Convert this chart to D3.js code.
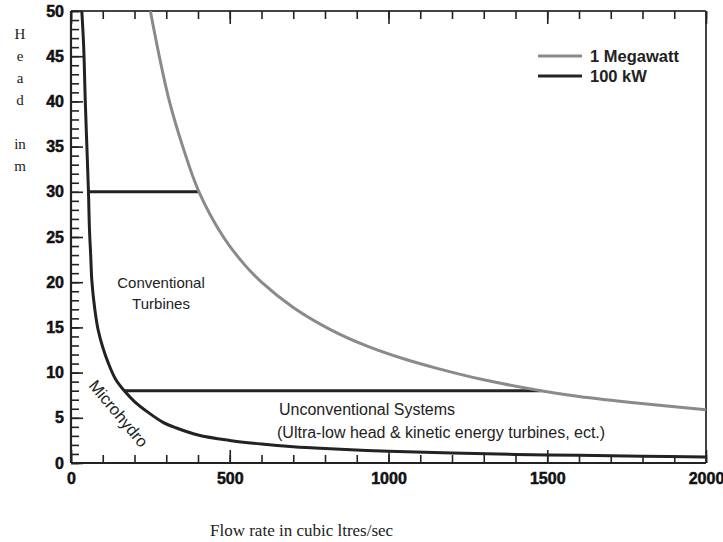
<!DOCTYPE html>
<html>
<head>
<meta charset="utf-8">
<script src="https://cdn.jsdelivr.net/npm/d3@7"></script>
<style>
  body { margin: 0; background: #fff; }
  svg { display: block; }
</style>
</head>
<body>
<svg id="chart" width="723" height="542"></svg>
<script>
// ---- Data ----
const flow1MW = [250, 278, 310, 352, 403, 480, 545, 600, 700, 820, 935, 1050, 1150, 1300, 1480, 1600, 1789, 2000];
const head1MW = [50, 45, 40, 35, 30, 25, 22, 20, 17.2, 14.7, 12.9, 11.5, 10.5, 9.2, 8.0, 7.35, 6.6, 5.9];

const flow100kW = [34, 40, 45, 50, 55, 58, 62, 66, 75, 85, 100, 117, 140, 170, 200, 243, 290, 330, 400, 500, 600, 700, 800, 1000, 1200, 1400, 1600, 1800, 2000];
const head100kW = [50, 46, 40, 35, 30, 26, 23, 20, 17, 14.8, 12.8, 11.1, 9.3, 7.9, 6.8, 5.6, 4.5, 3.9, 3.1, 2.5, 2.1, 1.8, 1.6, 1.3, 1.1, 0.95, 0.85, 0.75, 0.65];

const boundaryHead = [30, 8];
const boundaryFrom = [53, 170];
const boundaryTo = [403, 1480];

const xMajorTicks = [0, 500, 1000, 1500, 2000];
const yMajorTicks = [0, 5, 10, 15, 20, 25, 30, 35, 40, 45, 50];
const legendLabels = ["1 Megawatt", "100 kW"];
const yTitleLines = ["H", "e", "a", "d", "", "in", "m"];
const xTitle = "Flow rate in cubic ltres/sec";

// ---- Layout ----
const L = 71, R = 706, T = 11, B = 463;
const svg = d3.select("#chart");
const x = d3.scaleLinear().domain([0, 2000]).range([L, R]);
const y = d3.scaleLinear().domain([0, 50]).range([B, T]);

const grey = "#8a8a8a", dark = "#222";

svg.append("defs").append("clipPath").attr("id", "clip")
  .append("rect").attr("x", L).attr("y", T).attr("width", R - L).attr("height", B - T);

// Frame top/right
svg.append("line").attr("x1", L).attr("x2", R).attr("y1", T).attr("y2", T)
  .attr("stroke", "#444").attr("stroke-width", 2);
svg.append("line").attr("x1", R).attr("x2", R).attr("y1", T).attr("y2", B)
  .attr("stroke", "#444").attr("stroke-width", 2);

function styleAxis(g) {
  g.select(".domain").remove();
  g.selectAll(".tick line").attr("stroke", dark).attr("stroke-width", 1.6);
}
function styleLabels(g) {
  g.selectAll("text")
    .attr("font-family", "Liberation Sans, Arial, sans-serif")
    .attr("font-weight", "bold").attr("font-size", 16).attr("fill", "#111")
    .attr("stroke", "#111").attr("stroke-width", 0.5);
}

// Bottom axis: minor + major ticks pointing up, labels below
svg.append("g").attr("transform", `translate(0,${B})`)
  .call(d3.axisBottom(x).tickValues(d3.range(0, 2001, 100)).tickSize(-8).tickFormat(""))
  .call(styleAxis);
svg.append("g").attr("transform", `translate(0,${B})`)
  .call(d3.axisBottom(x).tickValues(xMajorTicks).tickSize(-13).tickPadding(10).tickFormat(d3.format("d")))
  .call(styleAxis).call(styleLabels);

// Top axis ticks pointing down
svg.append("g").attr("transform", `translate(0,${T})`)
  .call(d3.axisTop(x).tickValues(d3.range(0, 2001, 100)).tickSize(-8).tickFormat(""))
  .call(styleAxis);
svg.append("g").attr("transform", `translate(0,${T})`)
  .call(d3.axisTop(x).tickValues(xMajorTicks).tickSize(-13).tickFormat(""))
  .call(styleAxis);

// Left axis: ticks pointing right, labels left
svg.append("g").attr("transform", `translate(${L},0)`)
  .call(d3.axisLeft(y).tickValues(d3.range(0, 51, 1)).tickSize(-8).tickFormat(""))
  .call(styleAxis);
svg.append("g").attr("transform", `translate(${L},0)`)
  .call(d3.axisLeft(y).tickValues(yMajorTicks).tickSize(-12).tickPadding(7).tickFormat(d3.format("d")))
  .call(styleAxis).call(styleLabels);

// Axis lines left / bottom
svg.append("line").attr("x1", L).attr("x2", L).attr("y1", T).attr("y2", B)
  .attr("stroke", dark).attr("stroke-width", 2.2);
svg.append("line").attr("x1", L).attr("x2", R).attr("y1", B).attr("y2", B)
  .attr("stroke", dark).attr("stroke-width", 2.2);

// Curves
const plot = svg.append("g").attr("clip-path", "url(#clip)");
const line = d3.line().x(d => x(d[0])).y(d => y(d[1])).curve(d3.curveCatmullRom.alpha(0.5));

// Boundary lines
plot.selectAll(".boundary").data(boundaryHead).join("line")
  .attr("x1", (d, i) => x(boundaryFrom[i])).attr("x2", (d, i) => x(boundaryTo[i]))
  .attr("y1", d => y(d)).attr("y2", d => y(d))
  .attr("stroke", dark).attr("stroke-width", 3);

plot.append("path").datum(d3.zip(flow1MW, head1MW)).attr("d", line)
  .attr("fill", "none").attr("stroke", grey).attr("stroke-width", 3);
plot.append("path").datum(d3.zip(flow100kW, head100kW)).attr("d", line)
  .attr("fill", "none").attr("stroke", dark).attr("stroke-width", 3);

// Legend
const legend = svg.append("g");
[grey, dark].forEach((c, i) => {
  legend.append("line").attr("x1", 538).attr("x2", 582)
    .attr("y1", 56 + i * 20).attr("y2", 56 + i * 20)
    .attr("stroke", c).attr("stroke-width", 3);
  legend.append("text").attr("x", 590).attr("y", 62 + i * 20)
    .attr("font-family", "Liberation Sans, Arial, sans-serif")
    .attr("font-size", 16.5).attr("font-weight", "bold").attr("fill", "#222")
    .text(legendLabels[i]);
});

// Region labels
const lab = (t, xx, yy, size, anchor) => svg.append("text")
  .attr("x", xx).attr("y", yy).attr("text-anchor", anchor || "start")
  .attr("font-family", "Liberation Sans, Arial, sans-serif")
  .attr("font-size", size).attr("fill", "#222").text(t);

lab("Conventional", 161, 288, 15, "middle");
lab("Turbines", 161, 309, 15, "middle");
lab("Unconventional Systems", 279, 415, 16);
lab("(Ultra-low head & kinetic energy turbines, ect.)", 277, 438, 16);
svg.append("text")
  .attr("transform", "translate(88,386) rotate(50)")
  .attr("font-family", "Liberation Sans, Arial, sans-serif")
  .attr("font-size", 16.5).attr("fill", "#222").text("Microhydro");

// Axis titles
svg.append("g").selectAll("text").data(yTitleLines).join("text")
  .attr("x", 20).attr("y", (d, i) => 39 + i * 22)
  .attr("text-anchor", "middle")
  .attr("font-family", "Liberation Serif, Times New Roman, serif")
  .attr("font-size", 15).attr("fill", "#222").text(d => d);

svg.append("text").attr("x", 210).attr("y", 536)
  .attr("font-family", "Liberation Serif, Times New Roman, serif")
  .attr("font-size", 17).attr("fill", "#222").text(xTitle);
</script>
</body>
</html>
